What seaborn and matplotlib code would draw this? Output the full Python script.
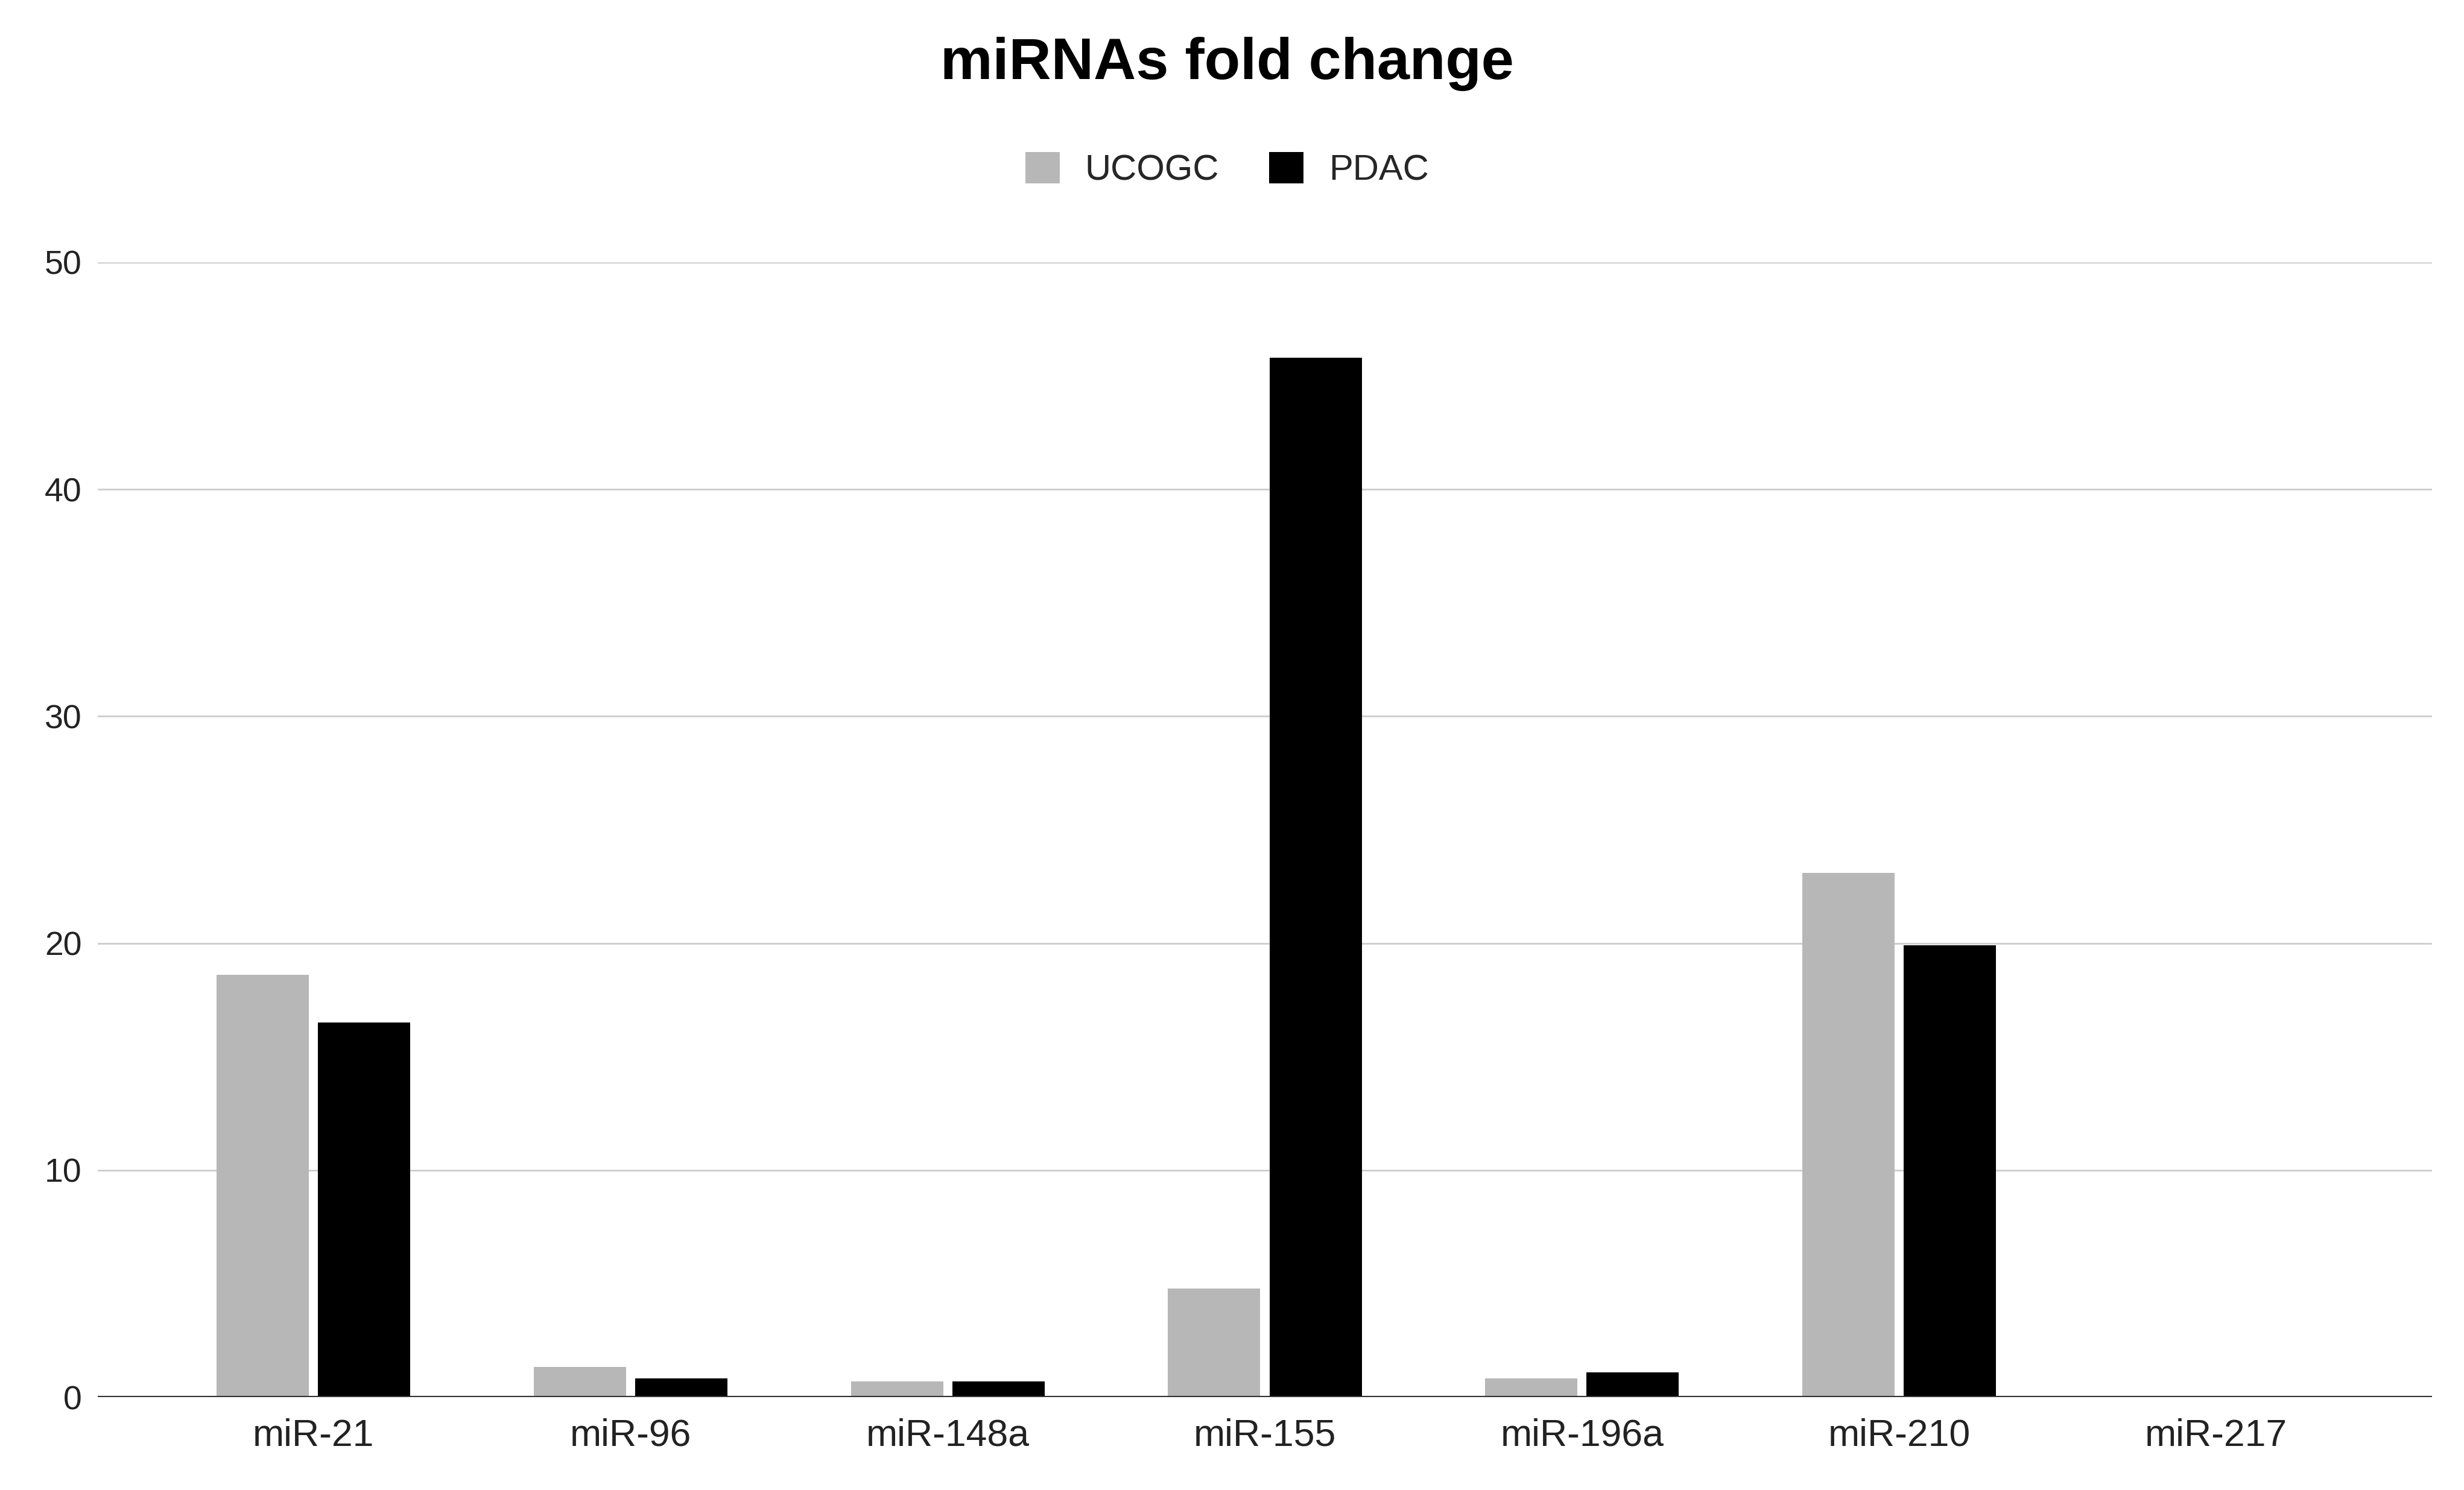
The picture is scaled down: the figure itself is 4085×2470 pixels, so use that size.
import pandas as pd
import seaborn as sns
import matplotlib
matplotlib.use('Agg')
import matplotlib.pyplot as plt

# values
mirnas = ['miR-21', 'miR-96', 'miR-148a', 'miR-155', 'miR-196a', 'miR-210', 'miR-217']
ucogc = [18.6, 1.33, 0.69, 4.8, 0.82, 23.1, 0.0]
pdac = [16.5, 0.82, 0.69, 45.8, 1.1, 19.9, 0.0]
groups = ['UCOGC', 'PDAC']
colors = ['#b7b7b7', '#000000']

df = pd.DataFrame({
    'miRNA': mirnas * 2,
    'fold': ucogc + pdac,
    'group': [groups[0]] * len(mirnas) + [groups[1]] * len(mirnas),
})

sns.set_style('white')
plt.rcParams['font.family'] = ['Liberation Sans', 'DejaVu Sans']

fig = plt.figure(figsize=(40.85, 24.7), dpi=100)
ax = fig.add_axes([0.0397, 0.0623, 0.9473, 0.7616])

sns.barplot(data=df, x='miRNA', y='fold', hue='group', palette=colors,
            width=0.64, gap=0.09, ax=ax, saturation=1, edgecolor='none')

ax.set_ylim(0, 50)
ax.set_xlim(-0.68, 6.68)
ax.set_yticks([0, 10, 20, 30, 40, 50])
ax.yaxis.grid(True, color='#cccccc', linewidth=2)
ax.set_axisbelow(True)
ax.axhline(0, color='#333333', linewidth=3, zorder=5)
for s in ax.spines.values():
    s.set_visible(False)
ax.tick_params(axis='both', length=0)
ax.tick_params(axis='y', labelsize=40, pad=19, colors='#222222')
ax.tick_params(axis='x', labelsize=45, pad=25, colors='#222222')
ax.set_xlabel('')
ax.set_ylabel('')

handles, labels = ax.get_legend_handles_labels()
ax.get_legend().remove()
fig.legend(handles, labels, loc='center', bbox_to_anchor=(0.498, 0.886), ncol=2,
           frameon=False, fontsize=43, handlelength=0.95, handleheight=0.95,
           handletextpad=0.7, columnspacing=1.4)

fig.text(0.498, 0.957, 'miRNAs fold change', ha='center', va='center',
         fontsize=70, fontweight='bold', color='#000000')

fig.savefig('out.png', dpi=100, facecolor='white')
